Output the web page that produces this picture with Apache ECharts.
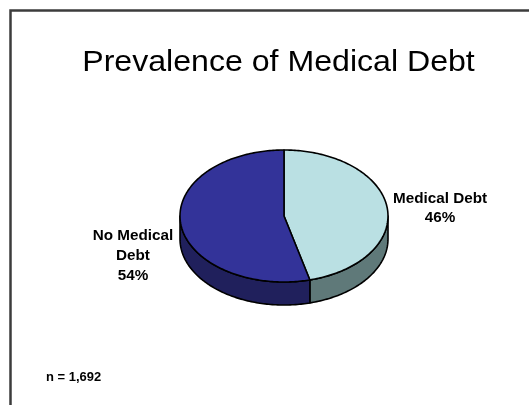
<!DOCTYPE html>
<html>
<head>
<meta charset="utf-8">
<script src="https://cdn.jsdelivr.net/npm/echarts@6/dist/echarts.min.js"></script>
<style>
  html, body { margin: 0; padding: 0; background: #fff; }
  #chart { width: 529px; height: 405px; }
</style>
</head>
<body>
<div id="chart"></div>
<script>
// Share of respondents with / without medical debt
const categories = ['Medical Debt', 'No Medical Debt'];
const values = [46, 54];
const labelLines = ['Medical Debt', 'No Medical\nDebt'];
const sampleSize = 'n = 1,692';
const titleText = 'Prevalence of Medical Debt';

// Styling
const topColors = ['#BAE0E3', '#333399'];
const sideColors = ['#5F7979', '#20205C'];
const FONT = '"Liberation Sans", Arial, Helvetica, sans-serif';

// Tilted pie geometry (ellipse for the top face, extruded downward)
const PIE = { cx: 284, cy: 216, rx: 104, ry: 66, depth: 23 };
// Label anchor points and line spacing, one per slice
const LABEL_POS = [[440, 208.5], [133, 256.5]];
const LABEL_LINE_HEIGHT = [19, 20];

const total = values.reduce((s, v) => s + v, 0);

function pt(theta, dy) {
  const r = theta * Math.PI / 180;
  return [PIE.cx + PIE.rx * Math.sin(r), PIE.cy - PIE.ry * Math.cos(r) + dy];
}
function arcPts(a0, a1, dy) {
  const pts = [];
  const n = Math.max(2, Math.ceil(a1 - a0));
  for (let i = 0; i <= n; i++) pts.push(pt(a0 + (a1 - a0) * i / n, dy));
  return pts;
}

function renderSlice(params, api) {
  const i = params.dataIndex;
  const v = api.value(0);
  let start = 0;
  for (let k = 0; k < i; k++) start += values[k];
  const a0 = start / total * 360;
  const a1 = (start + v) / total * 360;
  const children = [];

  // Front wall, only the part facing the viewer (90..270 deg clockwise from top)
  const lo = Math.max(a0, 90), hi = Math.min(a1, 270);
  if (lo < hi) {
    const side = arcPts(lo, hi, 0).concat(arcPts(lo, hi, PIE.depth).reverse());
    children.push({
      type: 'polygon',
      shape: { points: side },
      style: { fill: sideColors[i], stroke: '#000', lineWidth: 1.6, lineJoin: 'round' },
      z2: 1
    });
  }
  // Top face
  const top = [[PIE.cx, PIE.cy]].concat(arcPts(a0, a1, 0));
  children.push({
    type: 'polygon',
    shape: { points: top },
    style: { fill: topColors[i], stroke: '#000', lineWidth: 1.6, lineJoin: 'round' },
    z2: 2
  });
  // Slice label: name and percentage
  const pct = Math.round(v / total * 100) + '%';
  const [lx, ly] = LABEL_POS[i];
  children.push({
    type: 'text',
    x: lx, y: ly,
    scaleX: 1.09, originX: 0, originY: 0,
    style: {
      text: labelLines[i] + '\n' + pct,
      fill: '#000',
      font: 'bold 14px ' + FONT,
      align: 'center',
      verticalAlign: 'middle',
      lineHeight: LABEL_LINE_HEIGHT[i]
    },
    z2: 3
  });
  return { type: 'group', children };
}

const chart = echarts.init(document.getElementById('chart'), null, { renderer: 'canvas' });
chart.setOption({
  animation: false,
  backgroundColor: '#fff',
  graphic: [
    {
      type: 'rect',
      shape: { x: 10.5, y: 10.5, width: 700, height: 600 },
      style: { fill: 'none', stroke: '#3c3c3c', lineWidth: 2.5 },
      silent: true
    },
    {
      type: 'text',
      x: 278.5, y: 62.5,
      scaleX: 1.07, originX: 0, originY: 0,
      style: { text: titleText, fill: '#000', font: '30px ' + FONT, align: 'center', verticalAlign: 'middle' }
    },
    {
      type: 'text',
      x: 46, y: 378,
      scaleX: 1.08, originX: 0, originY: 0,
      style: { text: sampleSize, fill: '#000', font: 'bold 12px ' + FONT, align: 'left', verticalAlign: 'middle' }
    }
  ],
  series: [{
    type: 'custom',
    coordinateSystem: 'none',
    silent: true,
    data: values.map((v, i) => ({ name: categories[i], value: v })),
    renderItem: renderSlice
  }]
});
</script>
</body>
</html>
